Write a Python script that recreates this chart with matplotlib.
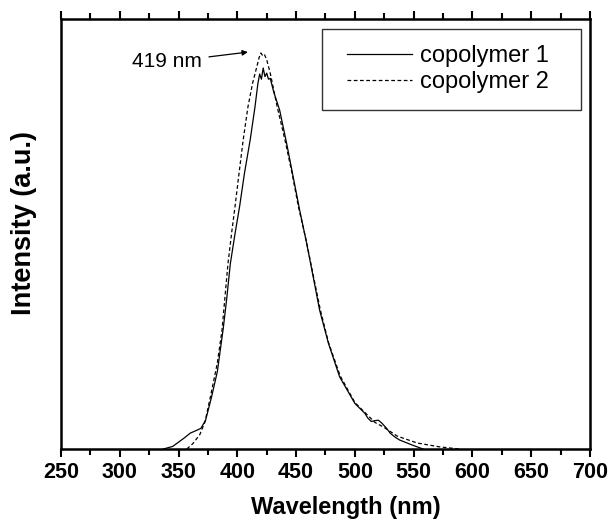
import numpy as np
from matplotlib import pyplot as plt
from matplotlib.ticker import MultipleLocator
from matplotlib.patches import Rectangle
import matplotlib

matplotlib.rcParams['font.family'] = ['Liberation Sans', 'DejaVu Sans']

# copolymer 1 (solid line)
wl1 = [337, 345, 350, 355, 360, 365, 369, 373, 378, 383, 388, 391, 394, 398,
       402, 406, 411, 415, 417.5, 419, 420.5, 422, 423.5, 425, 426.5, 428,
       431, 436, 442, 447.5, 453, 459, 464.5, 470, 477.5, 487, 500, 508.5,
       511, 514, 517, 520, 523, 527, 530, 534, 538, 549, 558]
I1 = [0, 0.006, 0.016, 0.026, 0.037, 0.043, 0.048, 0.067, 0.12, 0.18, 0.28,
      0.35, 0.43, 0.50, 0.565, 0.64, 0.72, 0.795, 0.85, 0.872, 0.86, 0.886,
      0.866, 0.874, 0.86, 0.862, 0.83, 0.788, 0.71, 0.633, 0.556, 0.478,
      0.401, 0.323, 0.246, 0.168, 0.106, 0.083, 0.072, 0.064, 0.066, 0.067,
      0.06, 0.048, 0.037, 0.028, 0.021, 0.009, 0]

# copolymer 2 (dashed line)
wl2 = [357, 362, 368, 372.5, 377, 383, 387, 389.5, 392, 395.5, 398, 401.5,
       405, 409, 413, 416.5, 418.5, 420, 421.5, 423, 425, 428, 434, 440.5,
       446.5, 452, 458.5, 464.5, 470.5, 477.5, 487.5, 500, 508.5, 517, 525,
       536, 553, 572, 589]
I2 = [0, 0.012, 0.033, 0.063, 0.12, 0.2, 0.277, 0.354, 0.43, 0.51, 0.563,
      0.642, 0.719, 0.795, 0.851, 0.888, 0.91, 0.921, 0.915, 0.918, 0.905,
      0.874, 0.795, 0.719, 0.642, 0.563, 0.486, 0.405, 0.325, 0.248, 0.17,
      0.108, 0.085, 0.062, 0.05, 0.03, 0.014, 0.005, 0]

labels = ['copolymer 1', 'copolymer 2']
peak_text = '419 nm'

fig = plt.figure(figsize=(6.08, 5.2), dpi=100)
ax = fig.add_axes([0.1003, 0.1365, 0.8701, 0.827])

ax.plot(wl1, I1, '-', color='black', linewidth=0.9, label=labels[0])
ax.plot(wl2, I2, color='black', linewidth=0.9, linestyle=(0, (3, 2)),
        label=labels[1])

ax.set_xlim(250, 700)
ax.set_ylim(0, 1.0)

ax.xaxis.set_major_locator(MultipleLocator(50))
ax.xaxis.set_minor_locator(MultipleLocator(25))
ax.set_yticks([])
ax.tick_params(axis='x', which='both', direction='out', top=True,
               width=1.5, labelsize=15.5, pad=3)
ax.tick_params(axis='x', which='major', length=6)
ax.tick_params(axis='x', which='minor', length=4)
for lab in ax.get_xticklabels():
    lab.set_fontweight('bold')
for s in ax.spines.values():
    s.set_linewidth(1.8)

ax.set_xlabel('Wavelength (nm)', fontsize=17, fontweight='bold')
ax.xaxis.set_label_coords(0.538, -0.109)
ax.set_ylabel('Intensity (a.u.)', fontsize=19.5, fontweight='bold')
ax.yaxis.set_label_coords(-0.045, 0.526)

ax.annotate(peak_text, xy=(409, 0.923), xytext=(370, 0.9),
            ha='right', va='center', fontsize=15,
            arrowprops=dict(arrowstyle='-|>', color='black', lw=0.9,
                            mutation_scale=8, shrinkA=3, shrinkB=0))

# legend without its own frame, boxed by a plain rectangle
leg = ax.legend(loc='center left', bbox_to_anchor=(0.5406, 0.8837),
                fontsize=17, handlelength=2.75, handletextpad=0.34,
                labelspacing=0.15, borderpad=0, borderaxespad=0,
                frameon=False)
ax.add_patch(Rectangle((0.4934, 0.7884), 0.4896, 0.1883,
                       transform=ax.transAxes, fill=False,
                       edgecolor='#333333', linewidth=1.0, zorder=4))

fig.savefig('out.png', dpi=100)
